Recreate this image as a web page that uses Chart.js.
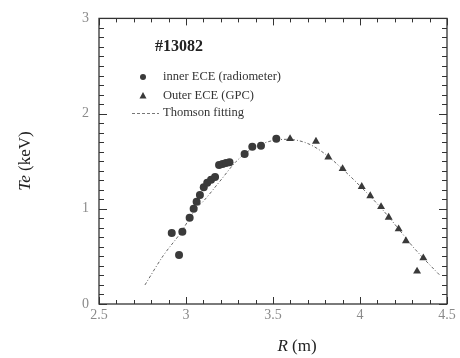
<!DOCTYPE html>
<html>
<head>
<meta charset="utf-8">
<script src="https://cdn.jsdelivr.net/npm/chart.js@4.4.0/dist/chart.umd.min.js"></script>
<style>
html, body { margin: 0; padding: 0; background: #fff; }
#wrap { width: 460px; height: 358px; }
</style>
</head>
<body>
<div id="wrap"><canvas id="chart" width="460" height="358"></canvas></div>
<script>
// inner ECE (radiometer) - circles
const innerR  = [2.918, 2.960, 2.979, 3.021, 3.044, 3.061, 3.080, 3.102, 3.122, 3.144, 3.167, 3.190, 3.210, 3.230, 3.250, 3.337, 3.381, 3.431, 3.519];
const innerTe = [0.747, 0.514, 0.760, 0.906, 1.000, 1.073, 1.146, 1.226, 1.274, 1.305, 1.333, 1.460, 1.470, 1.480, 1.490, 1.576, 1.653, 1.663, 1.736];

// Outer ECE (GPC) - triangles
const outerR  = [3.598, 3.747, 3.818, 3.900, 4.010, 4.059, 4.121, 4.165, 4.222, 4.264, 4.328, 4.364];
const outerTe = [1.736, 1.708, 1.542, 1.420, 1.233, 1.135, 1.021, 0.910, 0.788, 0.663, 0.344, 0.483];

// Thomson fitting curve
const fitR  = [2.764, 2.870, 2.966, 3.061, 3.100, 3.195, 3.290, 3.387, 3.483, 3.579, 3.694, 3.789, 3.904, 4.038, 4.130, 4.230, 4.300, 4.370, 4.460];
const fitTe = [0.20, 0.51, 0.74, 1.01, 1.08, 1.29, 1.50, 1.64, 1.71, 1.73, 1.69, 1.59, 1.41, 1.17, 0.99, 0.77, 0.61, 0.47, 0.30];

const xTicks = [2.5, 3, 3.5, 4, 4.5];
const yTicks = [0, 1, 2, 3];

const shotLabel = "#13082";
const seriesNames = ["inner ECE (radiometer)", "Outer ECE (GPC)", "Thomson fitting"];

const SERIF = "'Liberation Serif', 'Times New Roman', serif";
const MARK = "#3a3a3a";

const toPoints = (xs, ys) => xs.map((x, i) => ({ x: x, y: ys[i] }));

// frame, inward ticks, legend, titles
const decorations = {
    id: "decorations",
    afterDatasetsDraw(chart) {
        const ctx = chart.ctx;
        const area = chart.chartArea;
        const xs = chart.scales.x;
        const ys = chart.scales.y;

        ctx.save();
        ctx.strokeStyle = "#333";
        ctx.lineWidth = 1.3;
        ctx.strokeRect(area.left, area.top, area.right - area.left, area.bottom - area.top);

        ctx.lineWidth = 1;
        // x minor/major ticks (bottom and top)
        for (let i = 0; i <= 20; i++) {
            const v = 2.5 + i * 0.1;
            const px = Math.round(xs.getPixelForValue(v)) + 0.5;
            const len = i % 5 === 0 ? 7 : 4;
            ctx.beginPath();
            ctx.moveTo(px, area.bottom); ctx.lineTo(px, area.bottom - len);
            ctx.moveTo(px, area.top); ctx.lineTo(px, area.top + len);
            ctx.stroke();
        }
        // y ticks (left and right)
        for (let i = 0; i <= 30; i++) {
            const v = i * 0.1;
            const py = Math.round(ys.getPixelForValue(v)) + 0.5;
            const len = i % 10 === 0 ? 8 : 5;
            ctx.beginPath();
            ctx.moveTo(area.left, py); ctx.lineTo(area.left + len, py);
            ctx.moveTo(area.right, py); ctx.lineTo(area.right - len, py);
            ctx.stroke();
        }

        // shot number
        ctx.fillStyle = "#222";
        ctx.font = "bold 16px " + SERIF;
        ctx.textBaseline = "middle";
        ctx.textAlign = "left";
        ctx.fillText(shotLabel, 155, 47);

        // legend
        ctx.fillStyle = MARK;
        ctx.beginPath();
        ctx.arc(143, 77, 3, 0, Math.PI * 2);
        ctx.fill();
        ctx.beginPath();
        ctx.moveTo(143, 92); ctx.lineTo(146.5, 98.5); ctx.lineTo(139.5, 98.5);
        ctx.closePath();
        ctx.fill();
        ctx.strokeStyle = "#777";
        ctx.setLineDash([3, 2]);
        ctx.beginPath();
        ctx.moveTo(132, 113.5); ctx.lineTo(159, 113.5);
        ctx.stroke();
        ctx.setLineDash([]);

        ctx.fillStyle = "#333";
        ctx.font = "12.5px " + SERIF;
        ctx.fillText(seriesNames[0], 163, 77);
        ctx.fillText(seriesNames[1], 163, 96);
        ctx.fillText(seriesNames[2], 163, 113);

        // x title: R (m)
        ctx.fillStyle = "#222";
        ctx.font = "italic 17px " + SERIF;
        const wR = ctx.measureText("R").width;
        ctx.font = "17px " + SERIF;
        const wM = ctx.measureText(" (m)").width;
        let x0 = 297 - (wR + wM) / 2;
        ctx.font = "italic 17px " + SERIF;
        ctx.fillText("R", x0, 347);
        ctx.font = "17px " + SERIF;
        ctx.fillText(" (m)", x0 + wR, 347);

        // y title: Te (keV)
        ctx.translate(26, 161);
        ctx.rotate(-Math.PI / 2);
        ctx.font = "italic 17px " + SERIF;
        const wT = ctx.measureText("Te").width;
        ctx.font = "17px " + SERIF;
        const wK = ctx.measureText(" (keV)").width;
        x0 = -(wT + wK) / 2;
        ctx.font = "italic 17px " + SERIF;
        ctx.fillText("Te", x0, 0);
        ctx.font = "17px " + SERIF;
        ctx.fillText(" (keV)", x0 + wT, 0);
        ctx.restore();
    },
};

new Chart(document.getElementById("chart"), {
    type: "scatter",
    data: {
        datasets: [
            {
                label: seriesNames[0],
                data: toPoints(innerR, innerTe),
                pointStyle: "circle",
                pointRadius: 4,
                backgroundColor: MARK,
                borderColor: MARK,
                borderWidth: 0,
            },
            {
                label: seriesNames[1],
                data: toPoints(outerR, outerTe),
                pointStyle: "triangle",
                pointRadius: 4.6,
                backgroundColor: MARK,
                borderColor: MARK,
                borderWidth: 0,
            },
            {
                label: seriesNames[2],
                data: toPoints(fitR, fitTe),
                showLine: true,
                pointRadius: 0,
                borderColor: "#666",
                borderWidth: 1,
                borderDash: [3, 2, 1, 2],
                cubicInterpolationMode: "monotone",
                order: 5,
            },
        ],
    },
    options: {
        responsive: false,
        animation: false,
        devicePixelRatio: 1,
        layout: { padding: { top: 16, right: 13, left: 0, bottom: 0 } },
        plugins: {
            legend: { display: false },
            tooltip: { enabled: false },
        },
        scales: {
            x: {
                type: "linear",
                min: 2.5,
                max: 4.5,
                afterBuildTicks: (scale) => { scale.ticks = xTicks.map(v => ({ value: v })); },
                afterFit: (scale) => { scale.height = 54; },
                grid: { display: false, drawTicks: false, tickLength: 0 },
                border: { display: false },
                ticks: {
                    color: "#8a8a8a",
                    padding: 3,
                    font: { family: SERIF, size: 14 },
                    callback: (v) => String(v),
                },
            },
            y: {
                type: "linear",
                min: 0,
                max: 3,
                afterBuildTicks: (scale) => { scale.ticks = yTicks.map(v => ({ value: v })); },
                afterFit: (scale) => { scale.width = 99; },
                grid: { display: false, drawTicks: false, tickLength: 0 },
                border: { display: false },
                ticks: {
                    color: "#8a8a8a",
                    padding: 10,
                    font: { family: SERIF, size: 14 },
                    callback: (v) => String(v),
                },
            },
        },
    },
    plugins: [decorations],
});
</script>
</body>
</html>
